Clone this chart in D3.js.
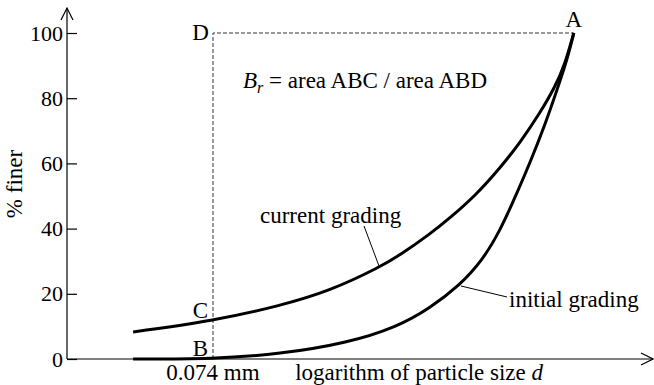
<!DOCTYPE html>
<html>
<head>
<meta charset="utf-8">
<script src="https://cdn.jsdelivr.net/npm/d3@7"></script>
<style>
  body { margin: 0; background: #fff; }
  svg text { font-family: "Liberation Serif", "Times New Roman", serif; fill: #000; }
</style>
</head>
<body>
<div id="chart"></div>
<script>
// particle size d (mm) on a log axis, percent finer
const currentSize = [0.0175, 0.074, 0.248, 0.612, 1.51, 2.17, 3.72, 5.35, 8.40, 13.2, 18.9, 27.2, 35.6, 42.7, 50];
const currentFiner = [8.3, 11.7, 16.3, 20.9, 28.2, 31.9, 38.3, 43.3, 50.0, 58.6, 66.3, 75.5, 83.4, 90.5, 100];
const initialSize = [0.0175, 0.074, 0.248, 0.832, 2.05, 3.72, 6.40, 9.53, 13.2, 17.9, 22.6, 29.7, 36.9, 44.2, 50];
const initialFiner = [0, 0, 1.5, 4.9, 9.8, 15.6, 22.7, 30.1, 39.3, 50.9, 60.1, 71.8, 82.5, 91.7, 100];
const yTicks = [0, 20, 40, 60, 80, 100];
const sizeB = 0.074, sizeA = 50;

const width = 654, height = 385;
const svg = d3.select("#chart").append("svg")
  .attr("width", width)
  .attr("height", height);

const x = d3.scaleLog().domain([0.0053, 209]).range([67, 653]);
const y = d3.scaleLinear().domain([0, 100]).range([359, 33]);

// y axis with inward ticks
const yAxis = svg.append("g")
  .attr("transform", "translate(" + x.range()[0] + ",0)")
  .call(d3.axisLeft(y).tickValues(yTicks).tickSizeInner(-10).tickSizeOuter(0).tickPadding(4));
yAxis.select(".domain").remove();
yAxis.attr("font-family", null).attr("font-size", null);
yAxis.selectAll("line").attr("stroke", "#000").attr("stroke-width", 1.2);
yAxis.selectAll("text")
  .style("font-family", "'Liberation Serif', serif")
  .style("font-size", "22px");

// axis lines with open arrow heads
const ax = svg.append("g").attr("fill", "none").attr("stroke", "#000").attr("stroke-width", 1.2);
ax.append("line").attr("x1", 67).attr("y1", y(0)).attr("x2", 67).attr("y2", 8);
ax.append("path").attr("d", "M61,20L67,8L73,20");
ax.append("line").attr("x1", 67).attr("y1", y(0)).attr("x2", 653).attr("y2", y(0));
ax.append("path").attr("d", "M641,353L653," + y(0) + "L641,365");

// dashed box B-D-A
svg.append("path")
  .attr("d", "M" + x(sizeB) + "," + y(0) + "V" + y(100) + "H" + x(sizeA))
  .attr("fill", "none")
  .attr("stroke", "#333")
  .attr("stroke-width", 1)
  .attr("stroke-dasharray", "4,2");

// grading curves
const line = d3.line()
  .x(d => x(d[0]))
  .y(d => y(d[1]))
  .curve(d3.curveBasis);

svg.append("path")
  .datum(currentSize.map((d, i) => [d, currentFiner[i]]))
  .attr("d", line)
  .attr("fill", "none").attr("stroke", "#000").attr("stroke-width", 3);

svg.append("path")
  .datum(initialSize.map((d, i) => [d, initialFiner[i]]))
  .attr("d", line)
  .attr("fill", "none").attr("stroke", "#000").attr("stroke-width", 3);

// leader lines
svg.append("line").attr("x1", 364).attr("y1", 226).attr("x2", 379).attr("y2", 266)
  .attr("stroke", "#000").attr("stroke-width", 1);
svg.append("line").attr("x1", 461).attr("y1", 286).attr("x2", 507).attr("y2", 297)
  .attr("stroke", "#000").attr("stroke-width", 1);

// labels
const fs = "23px";
function label(t, px, py, anchor) {
  return svg.append("text").attr("x", px).attr("y", py)
    .attr("text-anchor", anchor || "start").style("font-size", fs).text(t);
}
label("A", x(sizeA), 27, "middle");
label("D", x(sizeB) - 4, 40, "end");
label("C", x(sizeB) - 5, 318, "end");
label("B", x(sizeB) - 5, 356, "end");
label("current grading", 260, 223);
label("initial grading", 509, 307);
label("0.074 mm", x(sizeB), 380, "middle");

const xl = svg.append("text").attr("x", 543).attr("y", 380)
  .attr("text-anchor", "end").style("font-size", fs);
xl.append("tspan").text("logarithm of particle size ");
xl.append("tspan").attr("font-style", "italic").text("d");

const eq = svg.append("text").attr("x", 243).attr("y", 88).style("font-size", fs);
eq.append("tspan").attr("font-style", "italic").text("B");
eq.append("tspan").attr("font-style", "italic").attr("dy", 5).style("font-size", "16px").text("r");
eq.append("tspan").attr("dy", -5).text(" = area ABC / area ABD");

svg.append("text")
  .attr("transform", "translate(22,184) rotate(-90)")
  .attr("text-anchor", "middle")
  .style("font-size", fs)
  .text("% finer");
</script>
</body>
</html>
